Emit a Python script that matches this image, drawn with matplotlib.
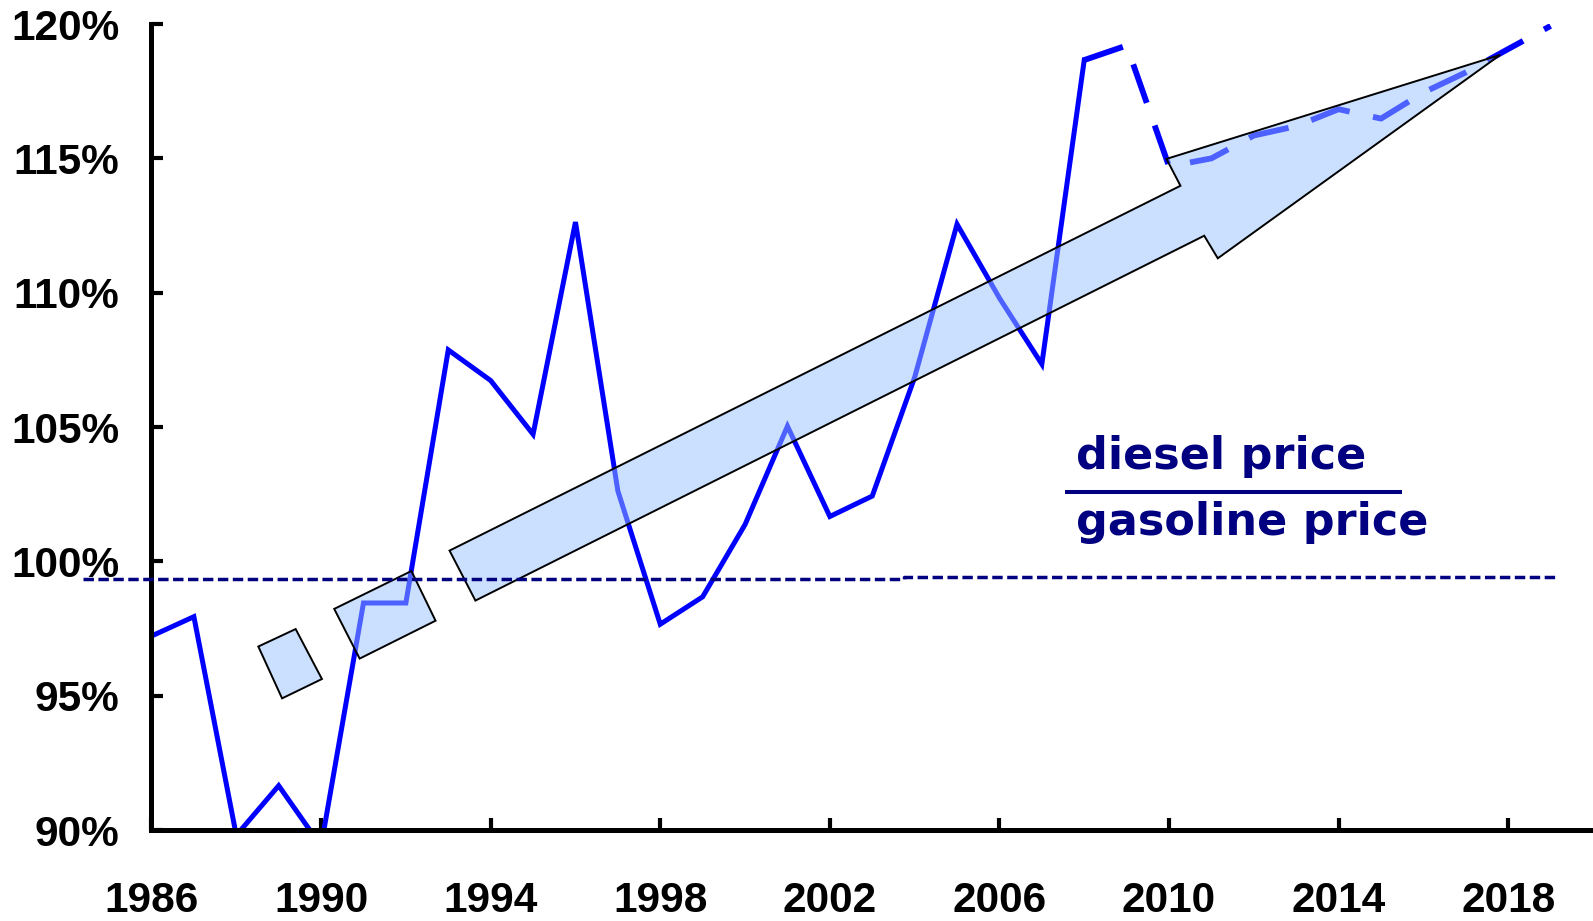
import numpy as np
import matplotlib.pyplot as plt
from matplotlib.patches import Polygon

# --- data: diesel / gasoline price ratio (%) ---
years_hist = list(range(1986, 2009))
ratio_hist = [97.22, 97.94, 89.8, 91.65, 89.4, 98.45, 98.45, 107.87, 106.73, 104.73,
              112.63, 102.62, 97.66, 98.68, 101.37, 105.03, 101.67, 102.43, 106.85,
              112.55, 109.8, 107.34, 118.66]
years_proj = list(range(2008, 2020))
ratio_proj = [118.66, 119.2, 114.7, 115.0, 115.85, 116.2, 116.83, 116.48, 117.45,
              118.2, 119.07, 119.93]

# parity reference (slightly stepped in the original)
ref_x = [1984.39, 2003.75, 2003.75, 2019.16]
ref_y = [99.33, 99.33, 99.42, 99.42]

# trend arrow outline, drawn in three pieces
arrow_a = [(1988.52, 96.83), (1989.40, 97.48), (1990.02, 95.62), (1989.08, 94.90)]
arrow_b = [(1990.31, 98.23), (1992.13, 99.64), (1992.70, 97.79), (1990.91, 96.38)]
arrow_main = [(1993.03, 100.40), (2010.27, 113.98), (2009.94, 114.98), (2017.81, 118.85),
              (2011.15, 111.28), (2010.83, 112.12), (1993.64, 98.54)]

xticks = list(range(1986, 2019, 4))
yticks = [90, 95, 100, 105, 110, 115, 120]

# --- plotting ---
fig = plt.figure(figsize=(15.93, 9.21), dpi=100)
ax = fig.add_axes([0.0951, 0.0988, 0.9049, 0.8751])

ax.plot(years_hist, ratio_hist, color="#0000FF", lw=3.6, solid_joinstyle="miter", zorder=2)
ax.plot(years_proj, ratio_proj, color="#0000FF", lw=4.2, dashes=(7.0, 4.1),
        dash_capstyle="butt", zorder=2)

fill = (0.6, 0.76, 1.0, 0.5)
for pts in (arrow_a, arrow_b, arrow_main):
    ax.add_patch(Polygon(pts, closed=True, facecolor=fill, edgecolor="black",
                         lw=1.4, zorder=3))

ax.plot(ref_x, ref_y, color="#000080", lw=2.5, dashes=(3, 1.3), clip_on=False, zorder=4)

# fraction label
navy = "#000080"
ax.text(2007.80, 103.44, "diesel price", color=navy, fontsize=32,
        fontweight="bold", family="DejaVu Sans", va="baseline", ha="left")
ax.text(2007.80, 100.98, "gasoline price", color=navy, fontsize=32,
        fontweight="bold", family="DejaVu Sans", va="baseline", ha="left")
ax.plot([2007.55, 2015.50], [102.59, 102.59], color=navy, lw=2.9,
        solid_capstyle="butt", zorder=4)

ax.set_xlim(1986, 2020)
ax.set_ylim(90, 120)
ax.set_xticks(xticks)
ax.set_xticklabels([str(y) for y in xticks])
ax.set_yticks(yticks)
ax.set_yticklabels([f"{v}%" for v in yticks])

for s in ("top", "right"):
    ax.spines[s].set_visible(False)
for s in ("left", "bottom"):
    ax.spines[s].set_linewidth(3.6)

ax.tick_params(axis="both", direction="in", length=8.5, width=3)
ax.tick_params(axis="x", pad=37)
ax.tick_params(axis="y", pad=23)
for lab in ax.get_xticklabels() + ax.get_yticklabels():
    lab.set_fontfamily("Liberation Sans")
    lab.set_fontweight("bold")
    lab.set_fontsize(30.5)

fig.savefig("out.png", dpi=100)
